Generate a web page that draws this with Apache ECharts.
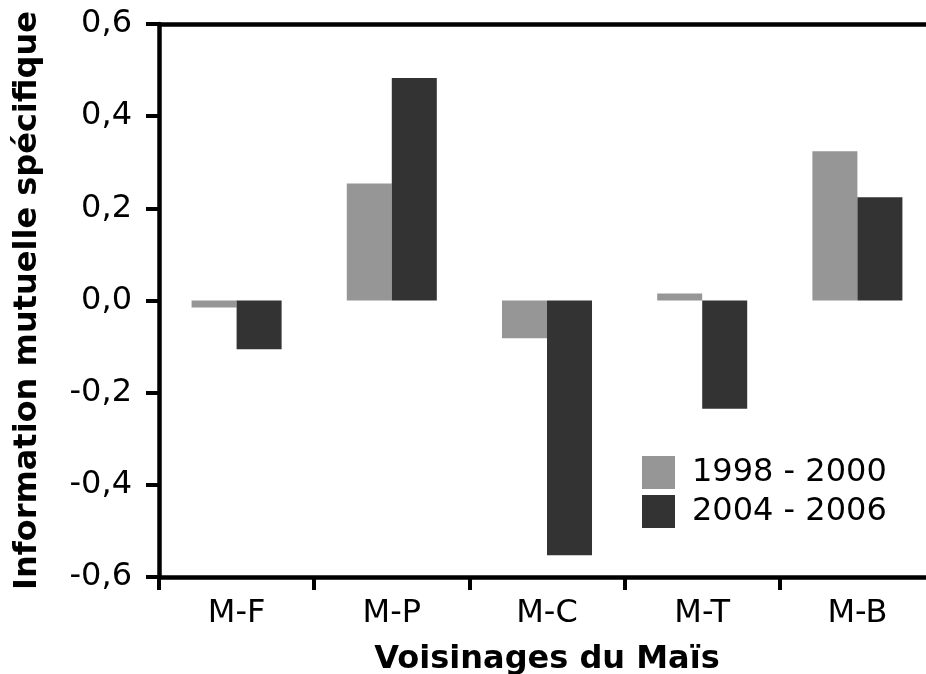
<!DOCTYPE html>
<html>
<head>
<meta charset="utf-8">
<script src="https://cdn.jsdelivr.net/npm/echarts@6/dist/echarts.min.js"></script>
<style>html,body{margin:0;padding:0;background:#fff}#c{width:926px;height:674px}</style>
</head>
<body>
<div id="c"></div>
<script>
var categories = ['M-F', 'M-P', 'M-C', 'M-T', 'M-B'];
var seriesNames = ['1998 - 2000', '2004 - 2006'];
var values1998 = [-0.015, 0.254, -0.082, 0.015, 0.324];
var values2004 = [-0.106, 0.483, -0.553, -0.235, 0.224];
var yTicks = [-0.6, -0.4, -0.2, 0.0, 0.2, 0.4, 0.6];

var font = 'DejaVu Sans';
var chart = echarts.init(document.getElementById('c'), null, {renderer: 'canvas'});
chart.setOption({
  backgroundColor: '#ffffff',
  animation: false,
  grid: {left: 159, top: 24, width: 776, height: 553, containLabel: false, outerBoundsMode: 'none'},
  legend: {
    orient: 'vertical', left: 642, top: 456, padding: 0, itemWidth: 33, itemHeight: 33, itemGap: 6,
    icon: 'rect',
    textStyle: {fontFamily: font, fontSize: 32, color: '#000', padding: [0, 0, 0, 12]},
    data: seriesNames
  },
  xAxis: [{
    type: 'category', data: categories, position: 'bottom',
    axisLine: {show: true, onZero: false, lineStyle: {color: '#000', width: 4.5}},
    axisTick: {show: true, length: 13, inside: false, lineStyle: {color: '#000', width: 4}},
    axisLabel: {fontFamily: font, fontSize: 32, color: '#000', margin: 21},
    name: 'Voisinages du Maïs', nameLocation: 'middle', nameGap: 67,
    nameTextStyle: {fontFamily: font, fontSize: 32, fontWeight: 'bold', color: '#000'}
  }, {
    type: 'category', data: categories, position: 'top',
    axisLine: {show: true, onZero: false, lineStyle: {color: '#000', width: 4.5}},
    axisTick: {show: false}, axisLabel: {show: false}
  }],
  yAxis: {
    type: 'value', min: yTicks[0], max: yTicks[yTicks.length - 1], interval: 0.2,
    axisLine: {show: true, lineStyle: {color: '#000', width: 4.5}},
    axisTick: {show: true, length: 13, lineStyle: {color: '#000', width: 4}},
    splitLine: {show: false},
    axisLabel: {fontFamily: font, fontSize: 32, color: '#000', margin: 27,
      formatter: function (v) { return v.toFixed(1).replace('.', ','); }},
    name: 'Information mutuelle spécifique', nameLocation: 'middle', nameGap: 115, nameRotate: 90,
    nameTextStyle: {fontFamily: font, fontSize: 32, fontWeight: 'bold', color: '#000'}
  },
  series: [{
    name: seriesNames[0], type: 'bar', data: values1998, barGap: '0%', barCategoryGap: '42%',
    itemStyle: {color: '#969696'}
  }, {
    name: seriesNames[1], type: 'bar', data: values2004, barGap: '0%', barCategoryGap: '42%',
    itemStyle: {color: '#333333'}
  }]
});
</script>
</body>
</html>
